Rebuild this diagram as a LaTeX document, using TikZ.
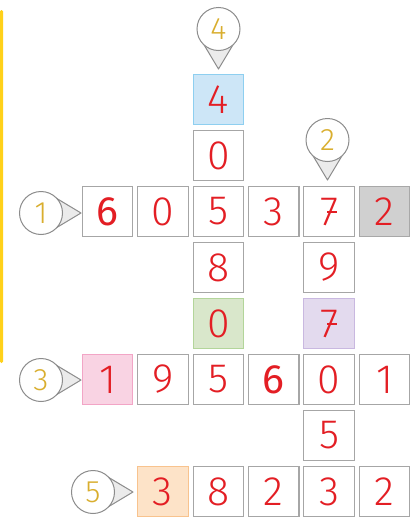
\documentclass[tikz,border=0pt]{standalone}
\usepackage{fontspec}
\setmainfont{Fira Sans}[UprightFont=* Light, BoldFont=* Regular]
\usepackage{xcolor}
\usetikzlibrary{positioning,calc,backgrounds}

\definecolor{digitred}{RGB}{227,30,36}
\definecolor{callgold}{RGB}{217,174,46}
\definecolor{boxgray}{RGB}{166,166,166}
\definecolor{ringgray}{RGB}{140,140,140}
\definecolor{tipgray}{RGB}{235,235,235}
\definecolor{baryellow}{RGB}{255,209,26}

% seven with a bar through its stem
\newcommand\slashseven{\ooalign{7\cr\kern0.17em\rule[0.3em]{0.24em}{0.055em}\hidewidth\cr}}

\begin{document}
\begin{tikzpicture}[
  x=1pt, y=1pt,
  node distance=4.4pt and 3.8pt,
  cell/.style={draw=boxgray, line width=1.1pt, fill=white, minimum size=50.5pt, inner sep=0pt,
    text=digitred, font=\fontsize{41}{41}\selectfont},
  bluecell/.style={cell, fill={rgb,255:red,205;green,230;blue,247}, draw={rgb,255:red,142;green,207;blue,240}},
  graycell/.style={cell, fill={rgb,255:red,208;green,208;blue,208}, draw={rgb,255:red,168;green,168;blue,168}},
  greencell/.style={cell, fill={rgb,255:red,217;green,231;blue,203}, draw={rgb,255:red,179;green,213;blue,154}},
  lilaccell/.style={cell, fill={rgb,255:red,227;green,218;blue,238}, draw={rgb,255:red,201;green,184;blue,224}},
  pinkcell/.style={cell, fill={rgb,255:red,249;green,211;blue,227}, draw={rgb,255:red,242;green,165;blue,198}},
  peachcell/.style={cell, fill={rgb,255:red,253;green,227;blue,200}, draw={rgb,255:red,248;green,195;blue,142}},
  callout/.style={circle, draw=ringgray, line width=1pt, fill=white, minimum size=43pt, inner sep=0pt,
    text=callgold, font=\fontsize{31}{31}\selectfont},
  pointer/.style={draw=ringgray, line width=1pt, fill=tipgray, line join=round}
]
\useasboundingbox (0,0) rectangle (415,-517);
\clip (0,0) rectangle (415,-517);

% yellow margin bar
\fill[baryellow, rounded corners=1.3pt] (0,-10) rectangle (3,-363);

% across 1
\node[cell] (c33) at (218.3,-211.5) {5};
\node[cell, left=of c33] (c32) {0};
\node[cell, left=of c32] (c31) {\bfseries 6};
\node[cell, right=of c33] (c34) {3};
\node[cell, right=of c34] (c35) {\slashseven};
\node[graycell, right=of c35] (c36) {2};

% down 4
\node[cell, above=of c33] (c23) {0};
\node[bluecell, above=of c23] (c13) {4};
\node[cell, below=of c33] (c43) {8};
\node[greencell, below=of c43] (c53) {0};

% down 2
\node[cell, below=of c35] (c45) {9};
\node[lilaccell, below=of c45] (c55) {\slashseven};

% across 3
\node[cell, below=of c53] (c63) {5};
\node[cell, left=of c63] (c62) {9};
\node[pinkcell, left=of c62] (c61) {1};
\node[cell, right=of c63] (c64) {\bfseries 6};
\node[cell, right=of c64] (c65) {0};
\node[cell, right=of c65] (c66) {1};

% across 5
\node[cell, below=of c65] (c75) {5};
\node[cell, below=of c75] (c85) {3};
\node[cell, left=of c85] (c84) {2};
\node[cell, left=of c84] (c83) {8};
\node[peachcell, left=of c83] (c82) {3};
\node[cell, right=of c85] (c86) {2};

% callouts
\node[callout] (k1) at (41,-213) {1};
\node[callout] (k3) at (41,-380) {3};
\node[callout] (k5) at (93,-492) {5};
\node[callout] (k4) at (218.5,-29) {4};
\node[callout] (k2) at (327.5,-140) {2};

\begin{scope}[on background layer]
\foreach \k/\a in {k1/0, k3/0, k5/0, k4/-90, k2/-90}
  \draw[pointer] ($(\k.center)+(\a+42:21.5pt)$) -- ($(\k.center)+(\a:40pt)$) -- ($(\k.center)+(\a-42:21.5pt)$) -- cycle;
\end{scope}
\end{tikzpicture}
\end{document}
